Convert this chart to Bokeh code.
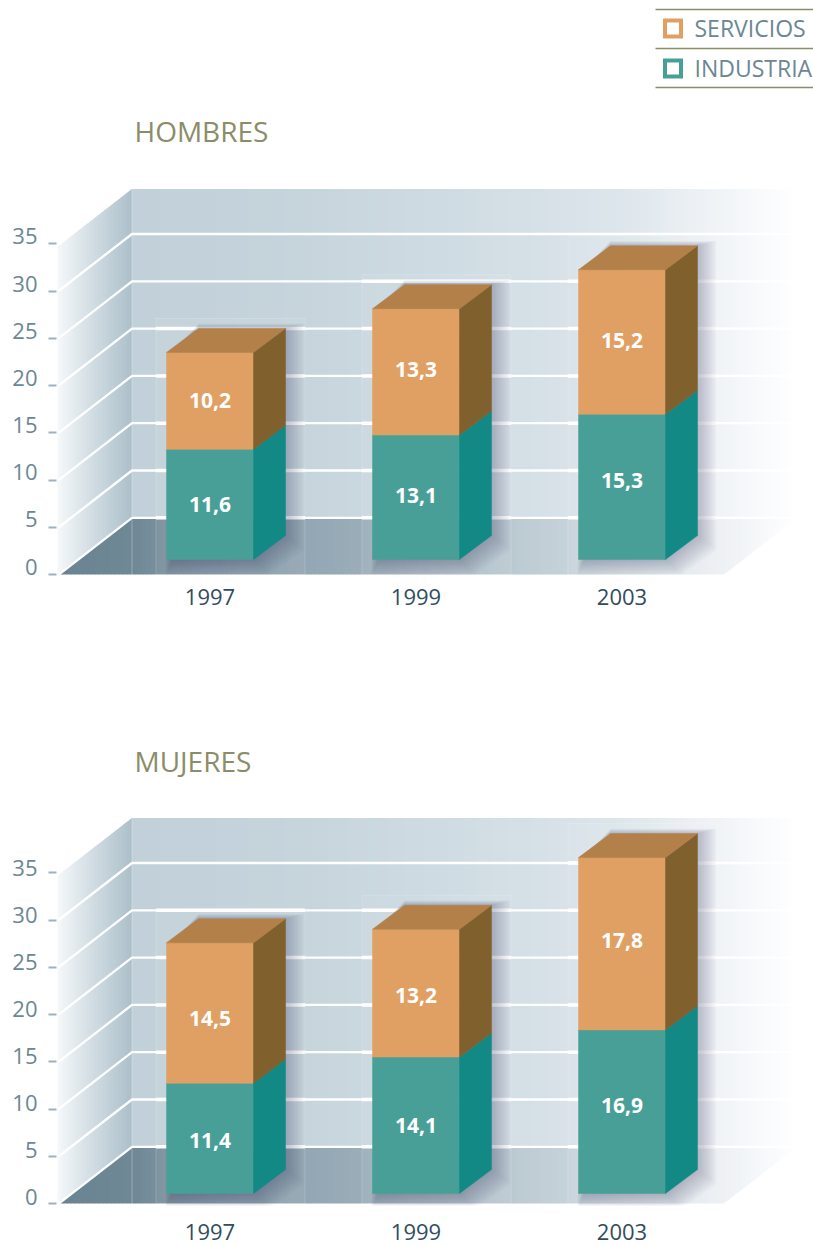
from bokeh.plotting import figure
from bokeh.layouts import column
from bokeh.models import Range1d, LinearAxis, FixedTicker, ColumnDataSource
from bokeh.core.properties import value
from bokeh.embed import file_html
from bokeh.resources import INLINE

# ---- data ----
YEARS = ["1997", "1999", "2003"]
Y_TICKS = [0, 5, 10, 15, 20, 25, 30, 35]
H_INDUSTRIA = [11.6, 13.1, 15.3]
H_SERVICIOS = [10.2, 13.3, 15.2]
M_INDUSTRIA = [11.4, 14.1, 16.9]
M_SERVICIOS = [14.5, 13.2, 17.8]
LEGEND = ["SERVICIOS", "INDUSTRIA"]

# ---- style ----
FONT = "Open Sans"
ORANGE, ORANGE_SIDE, ORANGE_TOP = "#e1a063", "#80612d", "#b38049"
TEAL, TEAL_SIDE = "#489f97", "#138986"
OLIVE, AXIS_TXT, YEAR_TXT = "#8b8d68", "#6b8794", "#2f4d5e"
LEFT_REF = 56          # frame left in page px
BACK_X, WALL_END, FLOOR_END = 131.5, 797, 723
FRONT_X = 58
AX_S = 9.46            # px per unit on the axis
DEPTH_Y = 57
BAR_W, BAR_DX, BAR_DY = 87, 32, 24
CENTER0, STEP = 209.5, 206
CENTERS = [CENTER0 + STEP * i for i in range(len(YEARS))]
WALL_STOPS = [(131, "#c1d0d9"), (300, "#c6d4dc"), (415, "#cddae1"), (540, "#d6e0e7"),
              (621, "#dde6eb"), (700, "#edf1f5"), (760, "#f8fafb"), (797, "#ffffff")]
FLOOR_STOPS = [(58, "#688391"), (131, "#6f8896"), (160, "#7a909d"), (300, "#92a6b3"),
               (360, "#9aadb9"), (500, "#b9c8d0"), (560, "#c5d1d9"), (700, "#e8edf1"),
               (797, "#ffffff")]
LEFT_STOPS = [(57, "#f6f8fa"), (90, "#d3dee4"), (131.5, "#acbfca")]


def rgb(h):
    return tuple(int(h[i:i + 2], 16) for i in (1, 3, 5))


def grad(stops, x):
    if x <= stops[0][0]:
        return stops[0][1]
    for (a, ca), (b, cb) in zip(stops, stops[1:]):
        if x <= b:
            t = (x - a) / (b - a)
            c = [round(u + (v - u) * t) for u, v in zip(rgb(ca), rgb(cb))]
            return "#%02x%02x%02x" % tuple(c)
    return stops[-1][1]


def panel(title, industria, servicios, top_ref, frame_bottom, fig_bottom, y0, wall_top,
          base, s2, title_y, label_standoff, nudge_i, nudge_s, lab0, lab_s, legend=False):
    fig_h = fig_bottom - top_ref
    py = lambda y: (y0 - y) / AX_S
    p = figure(width=813, height=fig_h, output_backend="svg", toolbar_location=None,
               x_range=Range1d(LEFT_REF, 813),
               y_range=Range1d(py(frame_bottom), py(top_ref)),
               x_axis_type=None, y_axis_type=None, tools="",
               min_border_left=LEFT_REF, min_border_right=0, min_border_top=0,
               min_border_bottom=fig_bottom - frame_bottom,
               outline_line_color=None, background_fill_color="white",
               border_fill_color="white")
    p.grid.visible = False
    p.extra_y_ranges["bars"] = Range1d((base - frame_bottom) / s2, (base - top_ref) / s2)
    p.extra_y_ranges["labels"] = Range1d((lab0 - frame_bottom) / lab_s, (lab0 - top_ref) / lab_s)

    back0 = y0 - DEPTH_Y
    # walls and floor as gradient strips
    def strips(x0, x1, step, stops, top_fn, bot_fn):
        xs, ys, cs = [], [], []
        x = x0
        while x < x1:
            b = min(x + step + 1, x1)
            xs.append([x, b, b, x])
            ys.append([py(top_fn(x)), py(top_fn(b)), py(bot_fn(b)), py(bot_fn(x))])
            cs.append(grad(stops, x + step / 2))
            x += step
        p.patches("xs", "ys", fill_color="c", line_color=None,
                  source=ColumnDataSource(dict(xs=xs, ys=ys, c=cs)))

    slope = DEPTH_Y / (BACK_X - FRONT_X)
    strips(BACK_X, WALL_END, 4, WALL_STOPS, lambda x: wall_top, lambda x: back0)
    strips(FRONT_X - 1, BACK_X, 2, LEFT_STOPS,
           lambda x: wall_top + (BACK_X - x) * slope,
           lambda x: y0 - (x - FRONT_X) * slope)
    floor_r = (WALL_END - FLOOR_END) / DEPTH_Y
    strips(FRONT_X, WALL_END, 4, FLOOR_STOPS,
           lambda x: max(back0, y0 - (x - FRONT_X) * slope),
           lambda x: y0 if x <= FLOOR_END else y0 - (x - FLOOR_END) / floor_r)

    # grid lines
    for t in Y_TICKS:
        v_back = py(back0) + t
        if t == 0:
            p.line([FRONT_X, BACK_X], [0, v_back], line_color="white", line_width=2.3)
            p.line([BACK_X, WALL_END], [v_back, v_back], line_color="white", line_width=2.3)
        elif t < 35:
            p.line([FRONT_X, BACK_X, WALL_END], [t, v_back, v_back],
                   line_color="white", line_width=2.3)
    p.line([BACK_X, BACK_X], [0, py(wall_top)], line_color="white", line_alpha=0.3, line_width=1)
    p.line([FRONT_X, FLOOR_END], [0, 0], line_color="white", line_alpha=0.5, line_width=1)

    to_bar = lambda px: px / s2
    # halos, shadows, bars
    for c, a, b, ni, ns in zip(CENTERS, industria, servicios, nudge_i, nudge_s):
        tot = a + b
        l, r = c - BAR_W / 2, c + BAR_W / 2
        hl, hr = l - 10.5, r + 51.5
        htop = base - tot * s2 - BAR_DY - 10
        p.quad(left=hl, right=hr, top=py(htop), bottom=0, fill_color="white", fill_alpha=0.05,
               line_color="white", line_alpha=0.18, line_width=1)
        for t in Y_TICKS:
            yb = back0 - t * AX_S
            if htop < yb:
                p.line([hl, hr], [py(yb), py(yb)], line_color="white", line_width=3.5)
        for k in range(2, 25, 2):
            sx = [l + 6 - k * 0.3, r + 1 + k * 0.6, r + BAR_DX + k * 0.8, r + BAR_DX + k * 0.8,
                  l + BAR_DX, l + 5]
            sy = [to_bar(-k * 0.65), to_bar(-k * 0.65), to_bar(BAR_DY - k * 0.6),
                  tot + to_bar(BAR_DY + k * 0.2), tot + to_bar(BAR_DY + k * 0.2), tot]
            p.patch(sx, sy, fill_color="#2e3e4c", fill_alpha=0.022, line_color=None,
                    y_range_name="bars")
        # front faces
        p.quad(left=l, right=r, bottom=0, top=a, fill_color=TEAL, line_color=TEAL,
               line_width=0.5, y_range_name="bars")
        p.quad(left=l, right=r, bottom=a, top=tot, fill_color=ORANGE, line_color=ORANGE,
               line_width=0.5, y_range_name="bars")
        # side faces
        d = to_bar(BAR_DY)
        p.patch([r, r + BAR_DX, r + BAR_DX, r], [0, d, a + d, a], fill_color=TEAL_SIDE,
                line_color=TEAL_SIDE, line_width=0.5, y_range_name="bars")
        p.patch([r, r + BAR_DX, r + BAR_DX, r], [a, a + d, tot + d, tot], fill_color=ORANGE_SIDE,
                line_color=ORANGE_SIDE, line_width=0.5, y_range_name="bars")
        # top face
        p.patch([l, r, r + BAR_DX, l + BAR_DX], [tot, tot, tot + d, tot + d],
                fill_color=ORANGE_TOP, line_color=ORANGE_TOP, line_width=0.5, y_range_name="bars")
        # value labels
        for val, mid, off in ((a, a / 2, ni), (b, a + b / 2, ns)):
            p.text([c], [mid], text=[format(val, ".1f").replace(".", ",")], text_color="white",
                   text_font=value(FONT), text_font_style="bold", text_font_size="21px",
                   text_align="center", text_baseline="middle", y_offset=off,
                   y_range_name="bars")

    # title
    p.text([134], [py(title_y)], text=[title], text_color=OLIVE, text_font=value(FONT),
           text_font_size="28px", text_align="left", text_baseline="middle")

    # axes: tick marks on the value scale, labels on a scale set slightly above them
    tick_ax = LinearAxis(ticker=FixedTicker(ticks=Y_TICKS), axis_line_color=None,
                         major_tick_in=0, major_tick_out=8, minor_tick_line_color=None,
                         major_tick_line_color="#9db2bd", major_tick_line_width=2,
                         major_label_standoff=0, major_label_text_font_size="1px",
                         major_label_text_color=None)
    p.add_layout(tick_ax, "left")
    lab_ax = LinearAxis(ticker=FixedTicker(ticks=Y_TICKS), y_range_name="labels",
                        axis_line_color=None, major_tick_line_color=None,
                        minor_tick_line_color=None, major_tick_in=0, major_tick_out=0,
                        major_label_standoff=11, major_label_text_color=AXIS_TXT,
                        major_label_text_font=FONT, major_label_text_font_size="22px")
    p.add_layout(lab_ax, "left")
    xax = LinearAxis(ticker=FixedTicker(ticks=CENTERS),
                     major_label_overrides={c: y for c, y in zip(CENTERS, YEARS)},
                     axis_line_color=None, major_tick_line_color=None,
                     minor_tick_line_color=None, major_tick_in=0, major_tick_out=0,
                     major_label_standoff=label_standoff, major_label_text_color=YEAR_TXT,
                     major_label_text_font=FONT, major_label_text_font_size="22px")
    p.add_layout(xax, "below")

    # legend
    if legend:
        for y in (9, 48, 87):
            p.line([655, 813], [py(y), py(y)], line_color=OLIVE, line_width=1.5)
        for name, yc, col in zip(LEGEND, (28, 68), (ORANGE, TEAL)):
            p.scatter([672.5], [py(yc)], marker="square", size=16, fill_color="white",
                      line_color=col, line_width=4, line_join="miter")
            p.text([694], [py(yc - 1)], text=[name], text_color=AXIS_TXT, text_font=value(FONT),
                   text_font_size="23px", text_align="left", text_baseline="middle")
    return p


top = panel("HOMBRES", H_INDUSTRIA, H_SERVICIOS, 0, 575, 630, 574.3, 188.5, 559, 9.5, 130, 13,
            [0, -2, -6], [0, -2, -1], 566, 9.43, True)
bot = panel("MUJERES", M_INDUSTRIA, M_SERVICIOS, 630, 1205, 1246, 1203.3, 817.5, 1193, 9.68, 760, 18,
            [2, 0, -6], [6, 2, -3], 1196, 9.4)
page = column(top, bot, spacing=0)
open("out.html", "w").write(file_html(page, INLINE))
